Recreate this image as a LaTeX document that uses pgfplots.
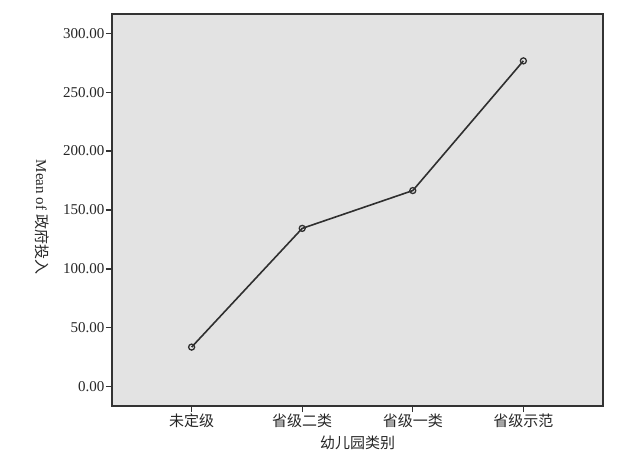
\documentclass[border=0pt]{standalone}
\usepackage{pgfplots}
\pgfplotsset{compat=1.18}
\usepackage{fontspec}
\setmainfont{Liberation Serif}
\newfontfamily\cjk{Noto Sans CJK SC}
\definecolor{bgfill}{HTML}{E3E3E3}
\definecolor{lncol}{HTML}{2F2F2F}
\begin{document}
\begin{tikzpicture}
\begin{axis}[
  scale only axis,
  width=491bp, height=392bp,
  xmin=-0.72, xmax=3.72,
  ymin=-16.4, ymax=316.4,
  axis background/.style={fill=bgfill},
  axis line style={draw=black!80, line width=1.3bp},
  xtick={0,1,2,3},
  xticklabels={{\cjk 未定级},{\cjk 省级二类},{\cjk 省级一类},{\cjk 省级示范}},
  ytick={0,50,100,150,200,250,300},
  tick align=outside,
  major tick length=6bp,
  tick style={draw=black!80, line width=1.3bp},
  xtick pos=bottom, ytick pos=left,
  /pgf/number format/.cd, fixed, fixed zerofill, precision=2, assume math mode=true,
  /pgfplots/.cd,
  tick label style={font=\fontsize{15bp}{18bp}\selectfont, text=black!85},
  yticklabel style={inner sep=1.5bp},
  xticklabel style={inner sep=2bp},
  xlabel={\cjk 幼儿园类别},
  ylabel={Mean of {\cjk 政府投入}},
  every axis x label/.style={at={(axis description cs:0.5,-0.0944)}, anchor=center, font=\fontsize{15bp}{18bp}\selectfont, text=black!85},
  every axis y label/.style={at={(axis description cs:-0.1426,0.482)}, rotate=-90, anchor=center, font=\fontsize{15bp}{18bp}\selectfont, text=black!85},
  clip=false,
]
\addplot[color=lncol, line width=1.6bp, mark=o, mark size=3bp, mark options={line width=1.3bp}]
  coordinates {(0,33.6) (1,134.4) (2,166.5) (3,276.6)};
\end{axis}
\path (current axis.south west) ++(-112bp,-50bp) rectangle ([xshift=19bp,yshift=14bp]current axis.north east);
\end{tikzpicture}
\end{document}
